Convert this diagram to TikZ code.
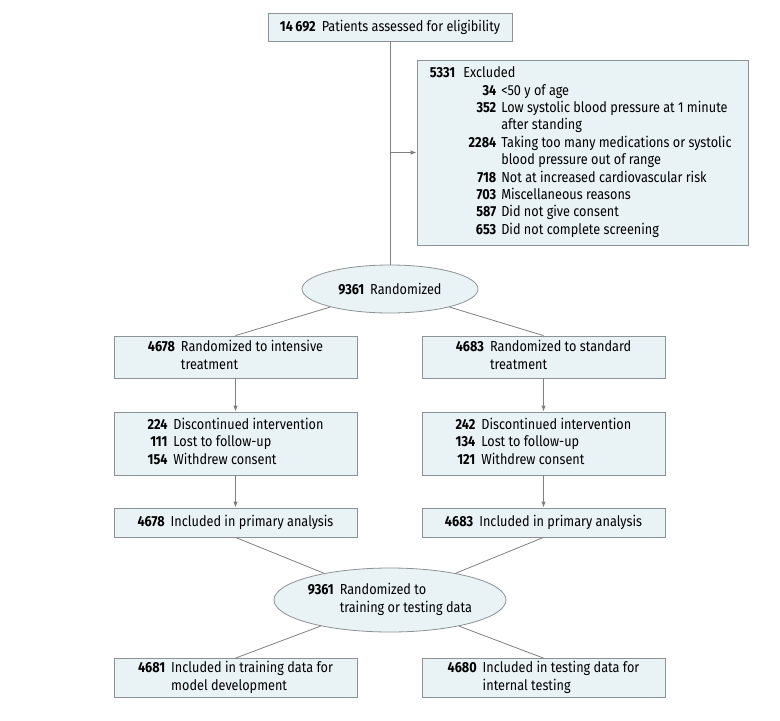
\documentclass[tikz,border=0pt]{standalone}
\usepackage{fontspec}
\usepackage{array}
\setmainfont{Fira Sans}[FakeStretch=0.875]
\usetikzlibrary{shapes.geometric,arrows.meta}
\definecolor{boxfill}{HTML}{E9F2F4}
\definecolor{boxline}{HTML}{8C9295}
\definecolor{connc}{HTML}{808080}
\newcommand{\nb}[1]{\textbf{#1}}
\begin{document}
\begin{tikzpicture}[x=1pt,y=-1pt,
  every node/.style={font=\fontsize{14.5}{17.4}\selectfont, inner sep=0pt},
  box/.style={draw=boxline, fill=boxfill, line width=0.8pt, rectangle, align=center},
  oval/.style={draw=boxline, fill=boxfill, line width=0.8pt, ellipse},
  conn/.style={draw=connc, line width=0.8pt},
  arr/.style={conn, -{Latex[length=6pt,width=4.5pt]}}
]
\useasboundingbox (0,0) rectangle (780,721);
\node[box, minimum width=244, minimum height=28] (top) at (390,27) {\nb{14\,692}\hspace{6pt}Patients assessed for eligibility};
\node[box, minimum width=331, minimum height=185] (excl) at (582.5,152.5) {};
\node[anchor=west, align=left] (excltxt) at ([xshift=13pt]excl.west) {\begin{tabular}{@{}r@{\hspace{8pt}}>{\raggedleft\arraybackslash}p{33pt}@{\hspace{5pt}}l@{}}
\nb{5331} & \multicolumn{2}{@{}l@{}}{Excluded}\\
& \nb{34} & <50 y of age\\
& \nb{352} & Low systolic blood pressure at 1 minute\\
& & after standing\\
& \nb{2284} & Taking too many medications or systolic\\
& & blood pressure out of range\\
& \nb{718} & Not at increased cardiovascular risk\\
& \nb{703} & Miscellaneous reasons\\
& \nb{587} & Did not give consent\\
& \nb{653} & Did not complete screening
\end{tabular}};
\node[oval, minimum width=176, minimum height=48] (r1) at (390,289) {\nb{9361}\hspace{6pt}Randomized};
\node[box, minimum width=243, minimum height=42] (b1l) at (235.5,357) {\begin{tabular}{@{}r@{\hspace{6pt}}l@{}}\nb{4678} & Randomized to intensive\\ & treatment\end{tabular}};
\node[box, minimum width=243, minimum height=42] (b1r) at (543.5,357) {\begin{tabular}{@{}r@{\hspace{6pt}}l@{}}\nb{4683} & Randomized to standard\\ & treatment\end{tabular}};
\node[box, minimum width=243, minimum height=63] (b2l) at (235.5,443.5) {\begin{tabular}{@{}r@{\hspace{6pt}}l@{}}\nb{224} & Discontinued intervention\\ \nb{111} & Lost to follow-up\\ \nb{154} & Withdrew consent\end{tabular}};
\node[box, minimum width=243, minimum height=63] (b2r) at (543.5,443.5) {\begin{tabular}{@{}r@{\hspace{6pt}}l@{}}\nb{242} & Discontinued intervention\\ \nb{134} & Lost to follow-up\\ \nb{121} & Withdrew consent\end{tabular}};
\node[box, minimum width=243, minimum height=29] (b3l) at (235.5,522.5) {\nb{4678}\hspace{6pt}Included in primary analysis};
\node[box, minimum width=243, minimum height=29] (b3r) at (543.5,522.5) {\nb{4683}\hspace{6pt}Included in primary analysis};
\node[oval, minimum width=230, minimum height=64] (r2) at (390,600) {\begin{tabular}{@{}r@{\hspace{6pt}}l@{}}\nb{9361} & Randomized to\\ & training or testing data\end{tabular}};
\node[box, minimum width=243, minimum height=39] (b4l) at (235.5,678) {\begin{tabular}{@{}r@{\hspace{6pt}}l@{}}\nb{4681} & Included in training data for\\ & model development\end{tabular}};
\node[box, minimum width=243, minimum height=39] (b4r) at (543.5,678) {\begin{tabular}{@{}r@{\hspace{6pt}}l@{}}\nb{4680} & Included in testing data for\\ & internal testing\end{tabular}};
\draw[conn] (top) -- (r1);
\draw[arr] (top.south |- excl.west) -- (excl.west);
\draw[conn] (r1) -- (b1l.north);
\draw[conn] (r1) -- (b1r.north);
\draw[arr] (b1l) -- (b2l);
\draw[arr] (b1r) -- (b2r);
\draw[arr] (b2l) -- (b3l);
\draw[arr] (b2r) -- (b3r);
\draw[conn] (b3l.south) -- (r2);
\draw[conn] (b3r.south) -- (r2);
\draw[conn] (r2) -- (b4l.north);
\draw[conn] (r2) -- (b4r.north);
\end{tikzpicture}
\end{document}
